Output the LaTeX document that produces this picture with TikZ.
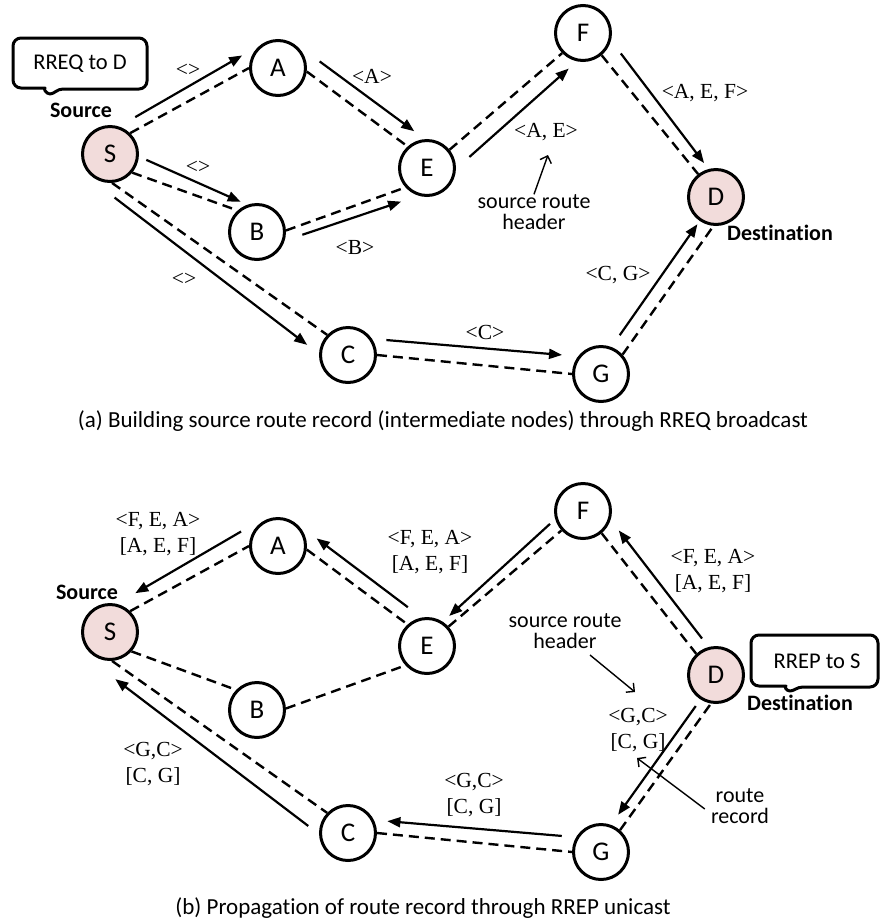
\documentclass[tikz,border=0pt]{standalone}
\usepackage{fontspec}
\setmainfont{Carlito}[Ligatures=NoCommon]
\newfontfamily\lblfont{Liberation Serif}
\usetikzlibrary{calc,arrows.meta}
\definecolor{nodepink}{HTML}{F2DCDB}

% dashed link between two node anchors plus a parallel message arrow
% #1 arrow style, #2/#3 anchors, #4 start fraction, #5 start offset,
% #6 fraction back from the end, #7 end offset
\newcommand\route[7]{%
  \draw[link] (#2) -- (#3);
  \draw[#1] ($(#2)!#4!(#3)!#5!90:(#3)$) -- ($(#3)!#6!(#2)!#7!-90:(#2)$);
}

\tikzset{
  router/.style={circle, draw, line width=3pt, minimum size=55pt, inner sep=0pt,
    fill=white, font=\fontsize{27}{27}\selectfont},
  endpoint/.style={router, fill=nodepink},
  link/.style={line width=2.4pt, dash pattern=on 10pt off 6pt},
  flow/.style={line width=2.2pt, -{Triangle[length=13pt,width=10pt]}},
  backflow/.style={line width=2.2pt, {Triangle[length=13pt,width=10pt]}-},
  hdr/.style={align=center, inner sep=0pt, font=\lblfont\fontsize{21.5}{26}\selectfont},
  role/.style={inner sep=0pt, font=\bfseries\fontsize{22}{22}\selectfont},
  note/.style={align=center, inner sep=0pt, font=\fontsize{22}{21}\selectfont},
  pointer/.style={line width=1.4pt, -{Straight Barb[length=6pt,width=12pt]}},
  callout/.style={line width=3pt, line join=round},
  calloutText/.style={inner sep=0pt, font=\fontsize{22.5}{22.5}\selectfont},
  caption/.style={inner sep=0pt, font=\fontsize{23}{23}\selectfont},
}

\begin{document}
\begin{tikzpicture}[x=1pt, y=-1pt]
\useasboundingbox (0,0) rectangle (880,922);

% ---------- (a) RREQ broadcast ----------
\node[endpoint] (S1) at (110,154) {S};
\node[router] (A1) at (278,68) {A};
\node[router] (B1) at (257,232) {B};
\node[router] (C1) at (348,355) {C};
\node[router] (E1) at (427,168) {E};
\node[router] (F1) at (583,33) {F};
\node[endpoint] (D1) at (716,197) {D};
\node[router] (G1) at (601,374) {G};

\route{flow}{S1.46}{A1.180}{0.09}{11.6pt}{0}{14.3pt}
\route{flow}{A1.-7}{E1.132}{0.034}{15.8pt}{0.03}{16.2pt}
\route{flow}{S1.-40}{B1.132}{0.08}{16.8pt}{0}{9.2pt}
\route{flow}{B1.3}{E1.-138}{0.11}{-9.6pt}{0.07}{-11.9pt}
\route{flow}{S1.-86}{C1.136}{0.04}{-10.5pt}{0.04}{-19.7pt}
\route{flow}{C1.0}{G1.180}{0.04}{15.8pt}{0.06}{18pt}
\route{flow}{G1.42}{D1.-95}{0.09}{13.5pt}{0.05}{14.1pt}
\route{flow}{E1.39}{F1.-136}{0.07}{-18.4pt}{0.034}{-16pt}
\route{flow}{F1.-50}{D1.128}{0.07}{16pt}{0.032}{11.6pt}

\node[hdr] (lSA1) at (188,70) {<>};
\node[hdr] (lAE1) at (372,76) {<A>};
\node[hdr] (lSB1) at (198,167) {<>};
\node[hdr] (lBE1) at (355,247) {<B>};
\node[hdr] (lSC1) at (184,279) {<>};
\node[hdr] (lCG1) at (485,332) {<C>};
\node[hdr] (lGD1) at (618,275) {<C, G>};
\node[hdr] (lEF1) at (546,132) {<A, E>};
\node[hdr] (lFD1) at (705,93) {<A, E, F>};

\node[note] (hdrA) at (534,212) {source route\\header};
\coordinate (hdrAtip) at (548,155);
\draw[pointer] (hdrA.north) -- (hdrAtip);

\node[role] (src1) at (81,110) {Source};
\node[role] (dst1) at (780,233) {Destination};

\draw[callout] (62,89) [rounded corners=8pt] -- (147,89) -- (147,38) -- (13,38)
  -- (13,88) -- (37,88) [sharp corners]
  .. controls (43,88) and (46,94) .. (50,94)
  .. controls (54,94) and (57,89) .. (63,89);
\node[calloutText] (reqmsg) at (80,64) {RREQ to D};

\node[caption] (capA) at (443,421)
  {(a) Building source route record (intermediate nodes) through RREQ broadcast};

% ---------- (b) RREP unicast ----------
\node[endpoint] (S2) at (110,632) {S};
\node[router] (A2) at (278,546) {A};
\node[router] (B2) at (257,710) {B};
\node[router] (C2) at (348,833) {C};
\node[router] (E2) at (427,646) {E};
\node[router] (F2) at (583,511) {F};
\node[endpoint] (D2) at (716,675) {D};
\node[router] (G2) at (601,852) {G};

\route{backflow}{S2.46}{A2.180}{0.097}{13.3pt}{0}{16.5pt}
\route{backflow}{A2.-7}{E2.132}{0.01}{14.8pt}{0.08}{14pt}
\draw[link] (S2.-42) -- (B2.136);
\draw[link] (B2.3) -- (E2.-138);
\route{backflow}{S2.-86}{C2.136}{0.05}{-13pt}{0.03}{-21.6pt}
\route{backflow}{C2.0}{G2.180}{0.047}{12.8pt}{0.06}{15pt}
\route{backflow}{G2.49}{D2.-100}{0.073}{10.5pt}{0.07}{10.9pt}
\route{backflow}{E2.42.6}{F2.-138}{0.05}{7.7pt}{0.03}{12.4pt}
\route{backflow}{F2.-50}{D2.133}{0.055}{15.2pt}{0.055}{14pt}

\node[hdr] (lSA2) at (158,534) {<F, E, A>\\{}[A, E, F]};
\node[hdr] (lAE2) at (430,552) {<F, E, A>\\{}[A, E, F]};
\node[hdr] (lFD2) at (713,571) {<F, E, A>\\{}[A, E, F]};
\node[hdr] (lGD2) at (638,730) {<G,C>\\{}[C, G]};
\node[hdr] (lCG2) at (474,795) {<G,C>\\{}[C, G]};
\node[hdr] (lSC2) at (153,764) {<G,C>\\{}[C, G]};

\node[note] (hdrB) at (565,631) {source route\\header};
\coordinate (hdrBtip) at (635,692);
\draw[pointer] (590,655) -- (hdrBtip);
\node[note] (recB) at (740,806) {route\\record};
\coordinate (recBtip) at (637,758);
\draw[pointer] (recB.west) ++(-6,3) -- (recBtip);

\node[role] (src2) at (87,592) {Source};
\node[role] (dst2) at (800,703) {Destination};

\draw[callout] (803,687) [rounded corners=8pt] -- (878,687) -- (878,635) -- (751,635)
  -- (751,686) -- (778,686) [sharp corners]
  .. controls (784,686) and (786,691) .. (790,691)
  .. controls (794,691) and (797,687) .. (803,687);
\node[calloutText] (repmsg) at (817,661) {RREP to S};

\node[caption] (capB) at (423,908)
  {(b) Propagation of route record through RREP unicast};
\end{tikzpicture}
\end{document}
